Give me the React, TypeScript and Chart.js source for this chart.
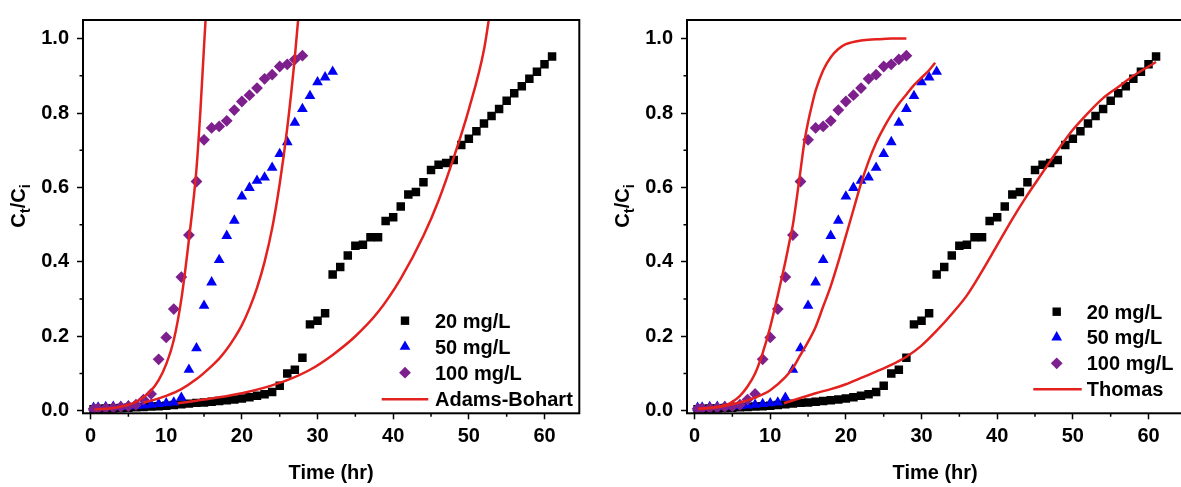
import React, { useEffect, useRef } from "react";
import { Chart, registerables } from "chart.js";

Chart.register(...registerables);

const FONT = '"Liberation Sans", Arial, Helvetica, sans-serif';

// Measured breakthrough data, C_t/C_i against time (hr)
const hours20 = [
  0.4, 1, 2, 3, 4, 5, 6, 7, 8, 9, 10, 11, 12, 13, 14, 15, 16, 17, 18, 19, 20,
  21, 22, 23, 24, 25, 26, 27, 28, 29, 30, 31, 32, 33, 34, 35, 36, 37, 38, 39,
  40, 41, 42, 43, 44, 45, 46, 47, 48, 49, 50, 51, 52, 53, 54, 55, 56, 57, 58,
  59, 60, 61,
];
const ratio20 = [
  0.004, 0.005, 0.006, 0.006, 0.007, 0.008, 0.009, 0.01, 0.011, 0.012, 0.013,
  0.015, 0.017, 0.019, 0.021, 0.022, 0.024, 0.026, 0.028, 0.03, 0.033, 0.036,
  0.04, 0.044, 0.05, 0.067, 0.1, 0.11, 0.142, 0.232, 0.242, 0.262, 0.366,
  0.386, 0.417, 0.443, 0.446, 0.466, 0.466, 0.51, 0.52, 0.549, 0.581, 0.588,
  0.614, 0.647, 0.661, 0.666, 0.674, 0.714, 0.731, 0.751, 0.772, 0.792, 0.811,
  0.833, 0.853, 0.872, 0.892, 0.911, 0.931, 0.952,
];

const hours50 = [
  0.4, 1, 2, 3, 4, 5, 6, 7, 8, 9, 10, 11, 12, 13, 14, 15, 16, 17, 18, 19, 20,
  21, 22, 23, 24, 25, 26, 27, 28, 29, 30, 31, 32,
];
const ratio50 = [
  0.008, 0.009, 0.01, 0.011, 0.011, 0.012, 0.013, 0.014, 0.016, 0.018, 0.02,
  0.022, 0.035, 0.11, 0.168, 0.282, 0.345, 0.405, 0.47, 0.511, 0.576, 0.599,
  0.618, 0.627, 0.653, 0.69, 0.722, 0.774, 0.811, 0.846, 0.883, 0.896, 0.911,
];

const hours100 = [
  0.4, 1, 2, 3, 4, 5, 6, 7, 8, 9, 10, 11, 12, 13, 14, 15, 16, 17, 18, 19, 20,
  21, 22, 23, 24, 25, 26, 27, 28,
];
const ratio100 = [
  0.005, 0.006, 0.007, 0.008, 0.01, 0.012, 0.016, 0.03, 0.045, 0.138, 0.197,
  0.273, 0.359, 0.472, 0.616, 0.728, 0.76, 0.764, 0.779, 0.808, 0.831, 0.848,
  0.867, 0.892, 0.903, 0.925, 0.931, 0.944, 0.954,
];

// Adams-Bohart model curves
const abTime20 = [11.5, 14, 17, 20, 23, 26, 29, 32, 35, 38, 41, 44, 46, 48, 50, 52, 53];
const abRatio20 = [0.02, 0.027, 0.036, 0.047, 0.062, 0.082, 0.11, 0.15, 0.2, 0.265, 0.355, 0.47, 0.565, 0.68, 0.81, 0.97, 1.1];
const abTime50 = [7, 8, 10, 12, 14, 16, 17, 18, 19, 20, 21, 22, 23, 24, 25, 26, 27, 27.6];
const abRatio50 = [0.022, 0.027, 0.04, 0.058, 0.085, 0.12, 0.14, 0.165, 0.195, 0.23, 0.275, 0.33, 0.4, 0.49, 0.61, 0.76, 0.95, 1.09];
const abTime100 = [0.5, 2, 3, 4, 5, 6, 7, 8, 9, 10, 11, 12, 13, 14, 14.5, 15, 15.4];
const abRatio100 = [0.003, 0.005, 0.007, 0.011, 0.016, 0.024, 0.036, 0.054, 0.082, 0.125, 0.19, 0.3, 0.46, 0.65, 0.8, 0.98, 1.12];

// Thomas model curves
const thTime20 = [11.8, 14, 16, 18, 20, 22, 24, 26, 28, 30, 32, 34, 36, 38, 40, 42, 44, 46, 48, 50, 52, 54, 56, 58, 60, 61];
const thRatio20 = [0.02, 0.034, 0.047, 0.058, 0.071, 0.088, 0.105, 0.123, 0.145, 0.175, 0.215, 0.26, 0.31, 0.375, 0.445, 0.515, 0.58, 0.64, 0.7, 0.755, 0.8, 0.84, 0.87, 0.9, 0.925, 0.937];
const thTime50 = [0.5, 3, 6, 8, 10, 12, 13, 14, 15, 16, 17, 18, 19, 20, 21, 22, 23, 24, 25, 26, 27, 28, 29, 30, 31, 31.8];
const thRatio50 = [0.005, 0.01, 0.022, 0.035, 0.055, 0.09, 0.115, 0.15, 0.185, 0.225, 0.28, 0.335, 0.4, 0.47, 0.54, 0.61, 0.67, 0.72, 0.76, 0.795, 0.825, 0.85, 0.875, 0.895, 0.915, 0.935];
const thTime100 = [0.5, 2, 4, 5, 6, 7, 8, 9, 10, 11, 12, 12.5, 13, 13.5, 14, 14.5, 15, 15.5, 16, 17, 18, 19, 20, 22, 24, 26, 28];
const thRatio100 = [0.004, 0.007, 0.014, 0.024, 0.04, 0.065, 0.1, 0.155, 0.225, 0.31, 0.4, 0.45, 0.5, 0.57, 0.645, 0.72, 0.775, 0.82, 0.86, 0.915, 0.95, 0.972, 0.985, 0.995, 0.998, 1.0, 1.0];

const seriesLabels = ["20 mg/L", "50 mg/L", "100 mg/L"];
const xMinorTicks = [5, 15, 25, 35, 45, 55];
const yMinorTicks = [0.1, 0.3, 0.5, 0.7, 0.9];

const BLACK = "#000000";
const BLUE = "#0000F5";
const PURPLE = "#7E1F8E";
const RED = "#E3211F";

type LegendLayout = {
  markerX: number;
  textX: number;
  lineFrom: number;
  lineTo: number;
  rows: number[];
};

const pts = (xs: number[], ys: number[]) => xs.map((x, i) => ({ x, y: ys[i] }));

const drawSquare = (ctx: CanvasRenderingContext2D, x: number, y: number) => {
  ctx.fillRect(x - 4.2, y - 4.2, 8.4, 8.4);
};
const drawTriangle = (ctx: CanvasRenderingContext2D, x: number, y: number) => {
  const r = 6.2;
  ctx.beginPath();
  ctx.moveTo(x, y - r);
  ctx.lineTo(x + 0.866 * r, y + 0.5 * r);
  ctx.lineTo(x - 0.866 * r, y + 0.5 * r);
  ctx.closePath();
  ctx.fill();
};
const drawDiamond = (ctx: CanvasRenderingContext2D, x: number, y: number) => {
  const r = 5.9;
  ctx.beginPath();
  ctx.moveTo(x - r, y);
  ctx.lineTo(x, y - r);
  ctx.lineTo(x + r, y);
  ctx.lineTo(x, y + r);
  ctx.closePath();
  ctx.fill();
};

// Frame, minor ticks, C_t/C_i axis title and the in-plot legend
const panelDecor = {
  id: "panelDecor",
  afterDraw(chart: any, _args: any, opts: any) {
    const { ctx, chartArea: a } = chart;
    const xs = chart.scales.x;
    const ys = chart.scales.y;
    ctx.save();

    ctx.strokeStyle = BLACK;
    ctx.lineWidth = 1.5;
    ctx.beginPath();
    xMinorTicks.forEach((v) => {
      const p = xs.getPixelForValue(v);
      ctx.moveTo(p, a.bottom);
      ctx.lineTo(p, a.bottom + 3.5);
    });
    yMinorTicks.forEach((v) => {
      const p = ys.getPixelForValue(v);
      ctx.moveTo(a.left, p);
      ctx.lineTo(a.left - 3.5, p);
    });
    ctx.stroke();

    ctx.lineWidth = 2;
    ctx.strokeRect(a.left, a.top, a.right - a.left, a.bottom - a.top);

    // rotated y title with subscripts
    ctx.save();
    ctx.translate(opts.titleX, opts.titleY);
    ctx.rotate(-Math.PI / 2);
    ctx.fillStyle = BLACK;
    ctx.textBaseline = "alphabetic";
    ctx.textAlign = "left";
    const parts = [
      { t: "C", sub: false },
      { t: "t", sub: true },
      { t: "/C", sub: false },
      { t: "i", sub: true },
    ];
    const fontFor = (sub: boolean) => (sub ? `bold 15px ${FONT}` : `bold 20px ${FONT}`);
    let total = 0;
    parts.forEach((p) => {
      ctx.font = fontFor(p.sub);
      total += ctx.measureText(p.t).width;
    });
    let cx = -total / 2;
    parts.forEach((p) => {
      ctx.font = fontFor(p.sub);
      ctx.fillText(p.t, cx, p.sub ? 5 : 0);
      cx += ctx.measureText(p.t).width;
    });
    ctx.restore();

    // legend
    const L: LegendLayout = opts.legend;
    ctx.fillStyle = BLACK;
    drawSquare(ctx, L.markerX, L.rows[0]);
    ctx.fillStyle = BLUE;
    drawTriangle(ctx, L.markerX, L.rows[1]);
    ctx.fillStyle = PURPLE;
    drawDiamond(ctx, L.markerX, L.rows[2]);
    ctx.strokeStyle = RED;
    ctx.lineWidth = 2.5;
    ctx.beginPath();
    ctx.moveTo(L.lineFrom, L.rows[3]);
    ctx.lineTo(L.lineTo, L.rows[3]);
    ctx.stroke();

    ctx.fillStyle = BLACK;
    ctx.font = `bold 20px ${FONT}`;
    ctx.textAlign = "left";
    ctx.textBaseline = "alphabetic";
    const labels = [...seriesLabels, opts.modelLabel];
    labels.forEach((txt: string, i: number) => {
      ctx.fillText(txt, L.textX, L.rows[i] + 7);
    });

    ctx.restore();
  },
};

const tickFont = { family: FONT, size: 20, weight: "bold" as const };

function makeConfig(curves: { x: number[]; y: number[] }[], modelLabel: string, legend: LegendLayout) {
  const lineSets = curves.map((c) => ({
    data: pts(c.x, c.y),
    showLine: true,
    borderColor: RED,
    borderWidth: 2.5,
    pointRadius: 0,
    fill: false,
    cubicInterpolationMode: "monotone",
    order: 0,
  }));
  return {
    type: "scatter",
    data: {
      datasets: [
        ...lineSets,
        {
          label: seriesLabels[2],
          data: pts(hours100, ratio100),
          pointStyle: "rectRot",
          pointRadius: 5.9,
          backgroundColor: PURPLE,
          borderWidth: 0,
          order: 1,
        },
        {
          label: seriesLabels[1],
          data: pts(hours50, ratio50),
          pointStyle: "triangle",
          pointRadius: 6.2,
          backgroundColor: BLUE,
          borderWidth: 0,
          order: 2,
        },
        {
          label: seriesLabels[0],
          data: pts(hours20, ratio20),
          pointStyle: "rect",
          pointRadius: 6,
          backgroundColor: BLACK,
          borderWidth: 0,
          order: 3,
        },
      ],
    },
    options: {
      responsive: false,
      animation: false,
      events: [],
      layout: { padding: { top: 7, right: 10.7, left: 0, bottom: 0 } },
      plugins: {
        legend: { display: false },
        tooltip: { enabled: false },
        panelDecor: { legend, modelLabel, titleX: 24.5, titleY: 206 },
      },
      scales: {
        x: {
          type: "linear",
          min: -1,
          max: 64.6,
          afterFit: (s: any) => {
            s.height = 73.7;
          },
          ticks: {
            stepSize: 10,
            includeBounds: false,
            autoSkip: false,
            maxRotation: 0,
            color: BLACK,
            font: tickFont,
            padding: 5,
          },
          grid: {
            drawOnChartArea: false,
            drawTicks: true,
            tickLength: 6,
            tickColor: BLACK,
            tickWidth: 1.5,
          },
          border: { display: false },
          title: {
            display: true,
            text: "Time (hr)",
            color: BLACK,
            font: tickFont,
            padding: { top: 0, bottom: 2 },
          },
        },
        y: {
          type: "linear",
          min: -0.007,
          max: 1.05,
          afterFit: (s: any) => {
            s.width = 83;
          },
          ticks: {
            stepSize: 0.2,
            includeBounds: false,
            color: BLACK,
            font: tickFont,
            padding: 8,
            callback: (v: any) => Number(v).toFixed(1),
          },
          grid: {
            drawOnChartArea: false,
            drawTicks: true,
            tickLength: 6,
            tickColor: BLACK,
            tickWidth: 1.5,
          },
          border: { display: false },
          title: { display: false },
        },
      },
    },
    plugins: [panelDecor],
  };
}

function Panel(props: {
  left: number;
  curves: { x: number[]; y: number[] }[];
  modelLabel: string;
  legend: LegendLayout;
}) {
  const ref = useRef<HTMLCanvasElement | null>(null);
  useEffect(() => {
    if (!ref.current) return;
    const chart = new Chart(ref.current, makeConfig(props.curves, props.modelLabel, props.legend) as any);
    return () => chart.destroy();
  }, []);
  return (
    <canvas
      ref={ref}
      width={590}
      height={487}
      style={{ position: "absolute", left: props.left, top: 0, width: 590, height: 487 }}
    />
  );
}

export default function App() {
  return (
    <div
      style={{
        position: "fixed",
        left: 0,
        top: 0,
        width: 1181,
        height: 487,
        overflow: "hidden",
        background: "#ffffff",
      }}
    >
      <Panel
        left={0}
        modelLabel="Adams-Bohart"
        curves={[
          { x: abTime100, y: abRatio100 },
          { x: abTime50, y: abRatio50 },
          { x: abTime20, y: abRatio20 },
        ]}
        legend={{ markerX: 405, textX: 435, lineFrom: 381.7, lineTo: 428.3, rows: [320.7, 346.7, 372.7, 399.3] }}
      />
      <Panel
        left={604}
        modelLabel="Thomas"
        curves={[
          { x: thTime100, y: thRatio100 },
          { x: thTime50, y: thRatio50 },
          { x: thTime20, y: thRatio20 },
        ]}
        legend={{ markerX: 452.7, textX: 482.7, lineFrom: 429.3, lineTo: 477.7, rows: [311.7, 337.3, 363.3, 389.3] }}
      />
    </div>
  );
}
